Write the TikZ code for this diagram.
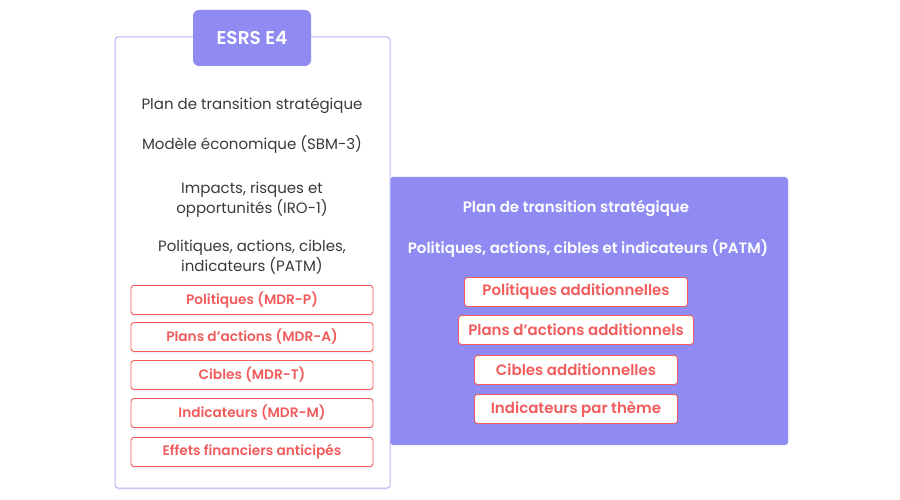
\documentclass[tikz,border=0pt]{standalone}
\usepackage{fontspec}
\setmainfont{Poppins}[BoldFont={Poppins SemiBold}]
\usetikzlibrary{shadows}
\definecolor{lavender}{HTML}{8F8BF2}
\definecolor{lavline}{HTML}{B9B4F5}
\definecolor{coral}{HTML}{F25C5C}
\definecolor{ink}{HTML}{3A3A3A}
\tikzset{
 redbox/.style={draw=coral,fill=white,rounded corners=3pt,text=coral,line width=0.9pt,minimum height=29pt,inner xsep=0pt,
  drop shadow={opacity=0.12,fill=lavender,shadow xshift=0pt,shadow yshift=-2pt},font=\bfseries\fontsize{13.7}{15}\selectfont},
 bigred/.style={redbox,font=\bfseries\fontsize{15}{17}\selectfont},
 greytext/.style={text=ink,align=center,font=\fontsize{15}{20}\selectfont},
 whitetext/.style={text=white,font=\bfseries\fontsize{15}{17}\selectfont}
}
\begin{document}
\begin{tikzpicture}[x=1pt,y=-1pt]
\useasboundingbox[fill=white] (0,0) rectangle (900,500);
\fill[lavender,rounded corners=3pt] (390,177) rectangle (788,445);
\draw[lavline,fill=white,line width=1pt,rounded corners=3pt,drop shadow={opacity=0.12,fill=lavender,shadow xshift=0pt,shadow yshift=-2pt}] (115,37) rectangle (390,488);
\node (tab) [fill=lavender,rounded corners=6pt,minimum width=118pt,minimum height=56pt,text=white,font=\bfseries\fontsize{18.5}{20}\selectfont] at (252,38) {ESRS E4};
\node (plan) [greytext] at (252,106) {Plan de transition stratégique};
\node (sbm) [greytext] at (252,144) {Modèle économique (SBM-3)};
\node (iro) [greytext] at (252,200) {Impacts, risques et\\opportunités (IRO-1)};
\node (patm) [greytext] at (252,257) {Politiques, actions, cibles,\\indicateurs (PATM)};
\node (mdrp) [redbox,minimum width=242pt] at (252,300) {Politiques (MDR-P)};
\node (mdra) [redbox,minimum width=242pt] at (252,337) {Plans d’actions (MDR-A)};
\node (mdrt) [redbox,minimum width=242pt] at (252,375) {Cibles (MDR-T)};
\node (mdrm) [redbox,minimum width=242pt] at (252,413) {Indicateurs (MDR-M)};
\node (effets) [redbox,minimum width=242pt] at (252,452) {Effets financiers anticipés};
\node (planE) [whitetext] at (576,208) {Plan de transition stratégique};
\node (patmE) [whitetext] at (588,249) {Politiques, actions, cibles et indicateurs (PATM)};
\node (polE) [bigred,minimum width=223pt] at (576,292) {Politiques additionnelles};
\node (actE) [bigred,minimum width=235pt] at (576,330) {Plans d’actions additionnels};
\node (cibE) [bigred,minimum width=203pt] at (576,370) {Cibles additionnelles};
\node (indE) [bigred,minimum width=203pt] at (576,409) {Indicateurs par thème};
\end{tikzpicture}
\end{document}
